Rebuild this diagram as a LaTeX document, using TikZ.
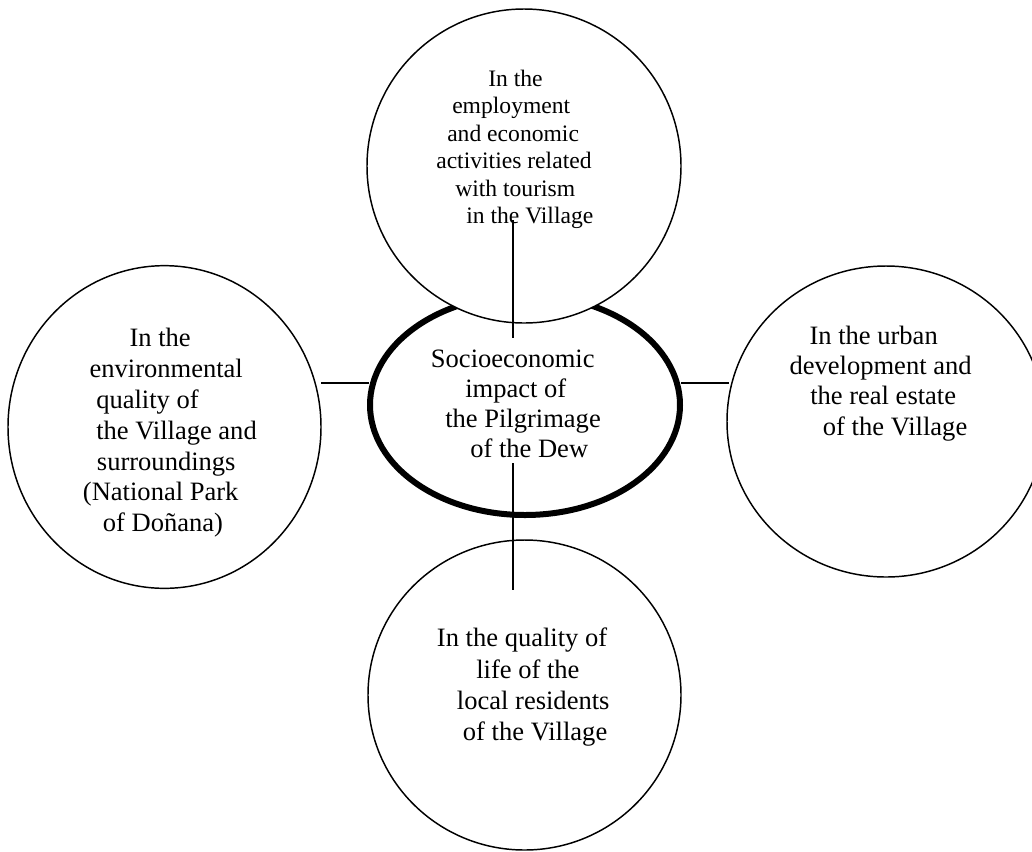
\documentclass[tikz,border=0pt]{standalone}
\usepackage{fontspec}
\setmainfont{Liberation Serif}
\usetikzlibrary{shapes.geometric}
\tikzset{
  bubble/.style={ellipse, draw=black, line width=1.1pt, fill=white, inner sep=0pt, outer sep=0pt},
  core/.style={ellipse, draw=black, line width=4.5pt, fill=white, inner sep=0pt, outer sep=0pt},
  link/.style={draw=black, line width=1.1pt},
  smalltxt/.style={anchor=base west, inner sep=0pt, font=\fontsize{17.7}{20}\selectfont},
  bigtxt/.style={anchor=base west, inner sep=0pt, font=\fontsize{19.9}{22}\selectfont}
}
\begin{document}
\begin{tikzpicture}[x=0.75pt, y=-0.75pt]
\useasboundingbox (0,0) rectangle (1032,851);
\fill[white] (0,0) rectangle (1032,851);
% central ellipse
\node[core, minimum width=232.5pt, minimum height=165pt] (center) at (525,405) {};
% satellite circles
\node[bubble, minimum width=235.5pt, minimum height=235.5pt] (topc) at (524,166) {};
\node[bubble, minimum width=234.75pt, minimum height=242pt] (leftc) at (164.5,427) {};
\node[bubble, minimum width=238.5pt, minimum height=233.25pt] (rightc) at (886,421.5) {};
\node[bubble, minimum width=234.75pt, minimum height=232.5pt] (botc) at (524.5,695) {};
% connector end points
\coordinate (vt1) at (513,220);
\coordinate (vt2) at (513,338);
\coordinate (vb1) at (513,463);
\coordinate (vb2) at (513,590);
\coordinate (hl1) at (321,383);
\coordinate (hl2) at (369,383);
\coordinate (hr1) at (681,383);
\coordinate (hr2) at (729,383);
\draw[link] (vt1) -- (vt2);
\draw[link] (vb1) -- (vb2);
\draw[link] (hl1) -- (hl2);
\draw[link] (hr1) -- (hr2);
% texts
\foreach \x/\y/\t [count=\i] in {488/86/In the, 452/113.5/employment, 447/141/and economic, 436/168.5/activities related, 455/196/with tourism, 466/223.5/in the Village}
  \node[smalltxt] (toptext-\i) at (\x,\y) {\t};
\foreach \x/\y/\t [count=\i] in {430.7/367.3/Socioeconomic, 465/397.7/impact of, 445/427.7/the Pilgrimage, 470/457.7/of the Dew}
  \node[bigtxt] (centertext-\i) at (\x,\y) {\t};
\foreach \x/\y/\t [count=\i] in {129.3/346.7/In the, 89.3/377.3/environmental, 96/408.3/quality of, 96/439.3/the Village and, 96.7/470/surroundings, 82.7/500.7/(National Park, 102.7/531.7/of Doñana)}
  \node[bigtxt] (lefttext-\i) at (\x,\y) {\t};
\foreach \x/\y/\t [count=\i] in {809.3/344/In the urban, 789.3/374/development and, 810/404.3/the real estate, 822.7/435/of the Village}
  \node[bigtxt] (righttext-\i) at (\x,\y) {\t};
\foreach \x/\y/\t [count=\i] in {436.7/646.7/In the quality of, 476/678.3/life of the, 456.7/709.3/local residents, 462.7/740/of the Village}
  \node[bigtxt] (bottext-\i) at (\x,\y) {\t};
\end{tikzpicture}
\end{document}
